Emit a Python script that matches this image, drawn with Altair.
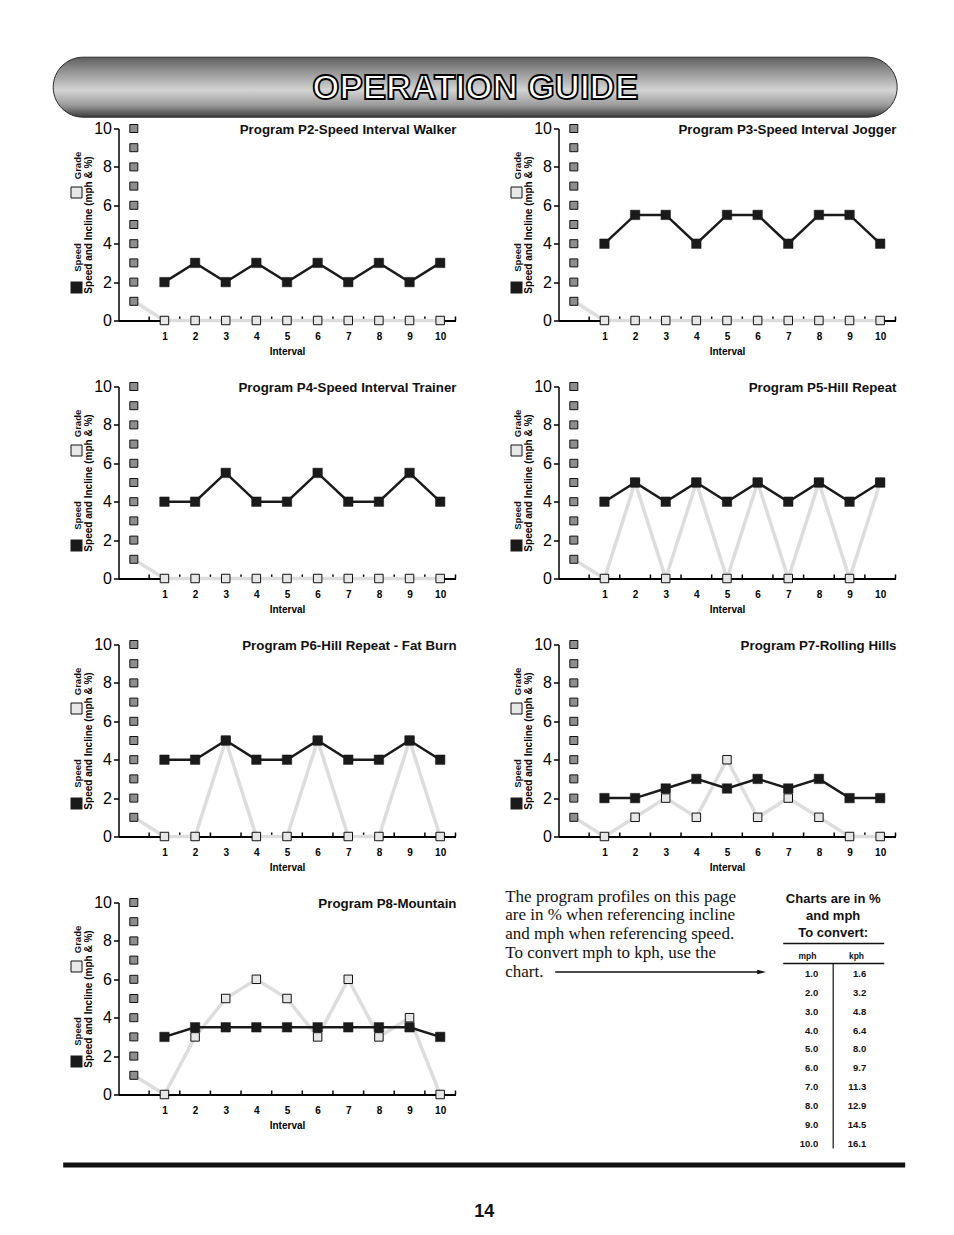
import altair as alt
import pandas as pd

# ---------------- data ----------------
intervals = [1, 2, 3, 4, 5, 6, 7, 8, 9, 10]
scale_levels = [1, 2, 3, 4, 5, 6, 7, 8, 9, 10]
tick_positions = [0.5, 1.5, 2.5, 3.5, 4.5, 5.5, 6.5, 7.5, 8.5, 9.5, 10.5]
y_tick_values = [0, 2, 4, 6, 8, 10]

titles = [
    "Program P2-Speed Interval Walker",
    "Program P3-Speed Interval Jogger",
    "Program P4-Speed Interval Trainer",
    "Program P5-Hill Repeat",
    "Program P6-Hill Repeat - Fat Burn",
    "Program P7-Rolling Hills",
    "Program P8-Mountain",
]
speed_p2 = [2, 3, 2, 3, 2, 3, 2, 3, 2, 3]
grade_p2 = [0, 0, 0, 0, 0, 0, 0, 0, 0, 0]
speed_p3 = [4, 5.5, 5.5, 4, 5.5, 5.5, 4, 5.5, 5.5, 4]
grade_p3 = [0, 0, 0, 0, 0, 0, 0, 0, 0, 0]
speed_p4 = [4, 4, 5.5, 4, 4, 5.5, 4, 4, 5.5, 4]
grade_p4 = [0, 0, 0, 0, 0, 0, 0, 0, 0, 0]
speed_p5 = [4, 5, 4, 5, 4, 5, 4, 5, 4, 5]
grade_p5 = [0, 5, 0, 5, 0, 5, 0, 5, 0, 5]
speed_p6 = [4, 4, 5, 4, 4, 5, 4, 4, 5, 4]
grade_p6 = [0, 0, 5, 0, 0, 5, 0, 0, 5, 0]
speed_p7 = [2, 2, 2.5, 3, 2.5, 3, 2.5, 3, 2, 2]
grade_p7 = [0, 1, 2, 1, 4, 1, 2, 1, 0, 0]
speed_p8 = [3, 3.5, 3.5, 3.5, 3.5, 3.5, 3.5, 3.5, 3.5, 3]
grade_p8 = [0, 3, 5, 6, 5, 3, 6, 3, 4, 0]

mph = ["1.0", "2.0", "3.0", "4.0", "5.0", "6.0", "7.0", "8.0", "9.0", "10.0"]
kph = ["1.6", "3.2", "4.8", "6.4", "8.0", "9.7", "11.3", "12.9", "14.5", "16.1"]
table_header = ["Charts are in %", "and mph", "To convert:"]
table_cols = ["mph", "kph"]
paragraph = [
    "The program profiles on this page",
    "are in % when referencing incline",
    "and mph when referencing speed.",
    "To convert mph to kph, use the",
    "chart.",
]
header_text = "OPERATION GUIDE"
page_number = "14"

# ---------------- styling ----------------
SANS = "Liberation Sans, Arial, Helvetica, sans-serif"
SERIF = "Liberation Serif, Times New Roman, serif"
W, H = 337, 192

xs = alt.Scale(domain=[-0.5, 10.5], nice=False, zero=False)
ys = alt.Scale(domain=[0, 10], nice=False, zero=False)
x_axis = alt.Axis(values=intervals, ticks=False, grid=False, labelFontWeight="bold",
                  labelFontSize=10, labelPadding=11, labelColor="black", labelFont=SANS,
                  domainColor="black", domainWidth=2, title="Interval", titleFontSize=10,
                  titleFontWeight="bold", titleColor="black", titleFont=SANS, titlePadding=5,
                  labelFlush=False)
y_axis = alt.Axis(values=y_tick_values, tickSize=5, tickWidth=1.5, tickColor="black", grid=False,
                  domainColor="black", domainWidth=1.5, labelFontSize=16, labelPadding=2,
                  labelColor="black", labelFont=SANS, title="Speed and Incline (mph & %)",
                  titleFontSize=10, titleFontWeight="bold", titleColor="black", titleFont=SANS,
                  titlePadding=0)


def X():
    return alt.X("x:Q", scale=xs, axis=x_axis)


def Y():
    return alt.Y("y:Q", scale=ys, axis=y_axis)


one = pd.DataFrame({"k": [0]})


def panel(title, speed, grade, extra=()):
    scale_df = pd.DataFrame({"x": [0] * len(scale_levels), "y": scale_levels})
    gline = pd.DataFrame({"x": [0] + intervals, "y": [scale_levels[0]] + grade})
    gpts = pd.DataFrame({"x": intervals, "y": grade})
    spts = pd.DataFrame({"x": intervals, "y": speed})
    ticks = pd.DataFrame({"x": tick_positions})
    layers = [
        alt.Chart(ticks).mark_rule(color="black", strokeWidth=1.5).encode(
            x=X(), y=alt.value(H), y2=alt.value(H - 4)),
        alt.Chart(gline).mark_line(color="#dddddd", strokeWidth=3.5).encode(x=X(), y=Y()),
        alt.Chart(scale_df).mark_square(size=64, fill="#8e8e8e", stroke="#111111",
                                        strokeWidth=1, opacity=1).encode(x=X(), y=Y()),
        alt.Chart(gpts).mark_square(size=72, fill="#e6e6e6", stroke="#111111",
                                    strokeWidth=1, opacity=1).encode(x=X(), y=Y()),
        alt.Chart(spts).mark_line(color="#1a1a1a", strokeWidth=2.5).encode(x=X(), y=Y()),
        alt.Chart(spts).mark_square(size=90, fill="#1a1a1a", stroke="#1a1a1a",
                                    strokeWidth=0.5, opacity=1).encode(x=X(), y=Y()),
        alt.Chart(one).mark_text(text=title, align="right", baseline="middle", fontSize=13.3,
                                 fontWeight="bold", font=SANS, color="#111111").encode(
            x=alt.value(W + 1), y=alt.value(1)),
        alt.Chart(one).mark_text(text="Grade", angle=270, align="center", baseline="middle",
                                 fontSize=9.5, fontWeight="bold", font=SANS,
                                 color="#111111").encode(x=alt.value(-41), y=alt.value(37)),
        alt.Chart(one).mark_text(text="Speed", angle=270, align="center", baseline="middle",
                                 fontSize=9.5, fontWeight="bold", font=SANS,
                                 color="#111111").encode(x=alt.value(-41), y=alt.value(129)),
        alt.Chart(one).mark_square(size=121, fill="#e8e8e8", stroke="#111111", strokeWidth=1,
                                   opacity=1).encode(x=alt.value(-42), y=alt.value(64)),
        alt.Chart(one).mark_square(size=144, fill="#1a1a1a", opacity=1).encode(
            x=alt.value(-42), y=alt.value(159)),
    ]
    layers += list(extra)
    return alt.layer(*layers).properties(width=W, height=H)


# header (drawn above the first panel)
pill_gradient = alt.Gradient(
    gradient="linear",
    stops=[
        alt.GradientStop(offset=0, color="#5e5e5e"),
        alt.GradientStop(offset=0.2, color="#8c8c8c"),
        alt.GradientStop(offset=0.55, color="#d4d4d4"),
        alt.GradientStop(offset=0.8, color="#9a9a9a"),
        alt.GradientStop(offset=1, color="#3c3c3c"),
    ],
    x1=0, x2=0, y1=0, y2=1,
)
header_layers = [
    alt.Chart(one).mark_rect(cornerRadius=30, fill=pill_gradient, stroke="#2a2a2a",
                             strokeWidth=1).encode(
        x=alt.value(-65.3), x2=alt.value(778.7), y=alt.value(-71.3), y2=alt.value(-11.3)),
    alt.Chart(one).mark_text(text=header_text, fontSize=35, fontWeight="bold", font=SANS,
                             fill="white", stroke="black", strokeWidth=1.8,
                             align="center", baseline="middle").encode(
        x=alt.value(356.7), y=alt.value(-41)),
]

footer_layers = [
    alt.Chart(one).mark_rule(color="#111111", strokeWidth=5).encode(
        x=alt.value(-55.3), x2=alt.value(786.7), y=alt.value(262.5)),
    alt.Chart(one).mark_text(text=page_number, fontSize=18, fontWeight="bold", font=SANS,
                             color="#111111", align="center", baseline="middle").encode(
        x=alt.value(365.7), y=alt.value(309)),
]

p2 = panel(titles[0], speed_p2, grade_p2, header_layers)
p3 = panel(titles[1], speed_p3, grade_p3)
p4 = panel(titles[2], speed_p4, grade_p4)
p5 = panel(titles[3], speed_p5, grade_p5)
p6 = panel(titles[4], speed_p6, grade_p6)
p7 = panel(titles[5], speed_p7, grade_p7)
p8 = panel(titles[6], speed_p8, grade_p8, footer_layers)

# text + conversion table cell
para_df = pd.DataFrame({"i": list(range(len(paragraph))), "line": paragraph})
head_df = pd.DataFrame({"i": list(range(len(table_header))), "line": table_header})
rows_df = pd.DataFrame({"r": list(range(len(mph))), "mph": mph, "kph": kph})
cols_df = pd.DataFrame({"c": [0, 1], "label": table_cols})

info = alt.layer(
    alt.Chart(para_df).mark_text(align="left", baseline="middle", fontSize=17, font=SERIF,
                                 color="#111111").encode(
        x=alt.value(-53.3),
        y=alt.Y("i:Q", scale=alt.Scale(domain=[0, 4], range=[-6, 69]), axis=None),
        text="line:N"),
    alt.Chart(one).mark_rule(color="#111111", strokeWidth=1.5).encode(
        x=alt.value(-3.3), x2=alt.value(200), y=alt.value(69.5)),
    alt.Chart(one).mark_point(shape="M -1 -0.5 L 1 0 L -1 0.5 Z", size=81, filled=True,
                              color="#111111", opacity=1).encode(
        x=alt.value(203.2), y=alt.value(69.5)),
    alt.Chart(head_df).mark_text(align="center", baseline="middle", fontSize=13,
                                 fontWeight="bold", font=SANS, color="#111111").encode(
        x=alt.value(274.7),
        y=alt.Y("i:Q", scale=alt.Scale(domain=[0, 2], range=[-4, 30]), axis=None),
        text="line:N"),
    alt.Chart(one).mark_rule(color="#111111", strokeWidth=1.5).encode(
        x=alt.value(224.7), x2=alt.value(325.7), y=alt.value(41)),
    alt.Chart(cols_df).mark_text(align="center", baseline="middle", fontSize=8.5,
                                 fontWeight="bold", font=SANS, color="#111111").encode(
        x=alt.X("c:Q", scale=alt.Scale(domain=[0, 1], range=[249, 298]), axis=None),
        y=alt.value(53), text="label:N"),
    alt.Chart(one).mark_rule(color="#111111", strokeWidth=1.5).encode(
        x=alt.value(224.7), x2=alt.value(325.7), y=alt.value(61)),
    alt.Chart(one).mark_rule(color="#111111", strokeWidth=1.2).encode(
        x=alt.value(274.7), y=alt.value(61), y2=alt.value(246)),
    alt.Chart(rows_df).mark_text(align="right", baseline="middle", fontSize=9.5,
                                 fontWeight="bold", font=SANS, color="#111111").encode(
        x=alt.value(259.7),
        y=alt.Y("r:Q", scale=alt.Scale(domain=[0, 9], range=[71.5, 241.2]), axis=None),
        text="mph:N"),
    alt.Chart(rows_df).mark_text(align="right", baseline="middle", fontSize=9.5,
                                 fontWeight="bold", font=SANS, color="#111111").encode(
        x=alt.value(307.7),
        y=alt.Y("r:Q", scale=alt.Scale(domain=[0, 9], range=[71.5, 241.2]), axis=None),
        text="kph:N"),
).resolve_scale(x="independent", y="independent").properties(width=W, height=H)

chart = alt.concat(
    p2, p3, p4, p5, p6, p7, p8, info,
    columns=2,
    spacing={"row": 66, "column": 103},
    bounds="flush",
).properties(
    padding={"left": 44.5, "top": 48.5, "right": 8, "bottom": 8},
    background="white",
).configure(font=SANS).configure_view(stroke=None)

chart.save("out.html", embed_options={"renderer": "svg", "actions": False})
